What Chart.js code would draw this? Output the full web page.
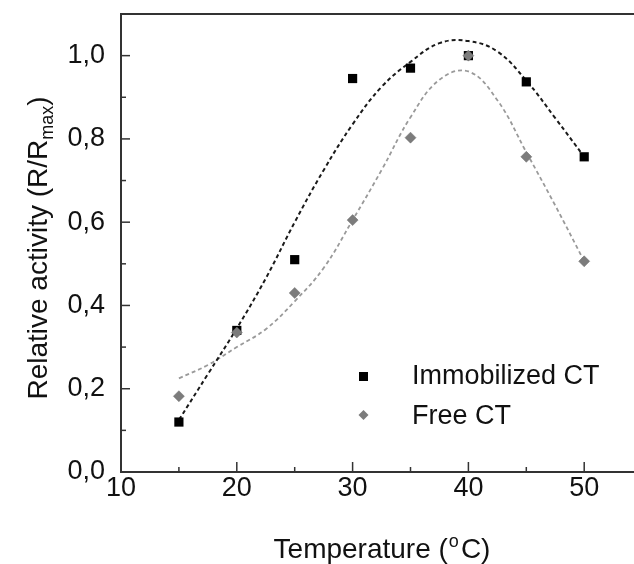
<!DOCTYPE html>
<html>
<head>
<meta charset="utf-8">
<script src="https://cdn.jsdelivr.net/npm/chart.js@4/dist/chart.umd.min.js"></script>
<style>
  html, body { margin: 0; padding: 0; background: #fff; }
  #wrap { width: 634px; height: 564px; }
</style>
</head>
<body>
<div id="wrap"><canvas id="chart" width="634" height="564"></canvas></div>
<script>
// measured points
const temps = [15, 20, 25, 30, 35, 40, 45, 50];
const immobilized = [0.12, 0.34, 0.51, 0.945, 0.97, 1.0, 0.937, 0.757];
const free = [0.182, 0.335, 0.43, 0.605, 0.803, 1.0, 0.757, 0.506];

// fitted curves
const fitTemps = [15, 17.5, 20, 22.5, 25, 27.5, 30, 32.5, 35, 37.5, 40, 42.5, 45, 47.5, 50];
const immobilizedFit = [0.125, 0.235, 0.345, 0.465, 0.6, 0.725, 0.835, 0.925, 0.985, 1.03, 1.035, 1.01, 0.94, 0.85, 0.757];
const freeFit = [0.225, 0.257, 0.3, 0.343, 0.41, 0.49, 0.605, 0.725, 0.852, 0.942, 0.962, 0.893, 0.768, 0.64, 0.506];

const seriesNames = ["Immobilized CT", "Free CT"];
const xTickLabels = [10, 20, 30, 40, 50];
const yTickLabels = [0, 0.2, 0.4, 0.6, 0.8, 1.0];

const FONT = "'Liberation Sans', Arial, sans-serif";
const pts = (xs, ys) => xs.map((x, i) => ({x: x, y: ys[i]}));

// inward tick marks + top frame line
const frame = {
  id: "frame",
  afterDraw(chart) {
    const c = chart.ctx, a = chart.chartArea;
    const xs = chart.scales.x, ys = chart.scales.y;
    c.save();
    c.strokeStyle = "#333";
    c.lineWidth = 2;
    c.beginPath();
    c.moveTo(a.left - 1, a.top);
    c.lineTo(chart.width, a.top);
    c.stroke();
    c.lineWidth = 1.5;
    xs.ticks.forEach(t => {
      const px = xs.getPixelForValue(t.value);
      const len = xTickLabels.includes(Math.round(t.value)) ? 10 : 5;
      c.beginPath(); c.moveTo(px, a.bottom); c.lineTo(px, a.bottom - len); c.stroke();
    });
    ys.ticks.forEach(t => {
      const py = ys.getPixelForValue(t.value);
      const major = Math.round(t.value * 10) % 2 === 0;
      c.beginPath(); c.moveTo(a.left, py); c.lineTo(a.left + (major ? 9 : 5), py); c.stroke();
    });
    c.restore();
  }
};

// axis titles with sub/superscripts, and the legend inside the plot
const labels = {
  id: "labels",
  afterDraw(chart) {
    const c = chart.ctx;
    c.save();
    c.fillStyle = "#111";
    c.textBaseline = "alphabetic";

    // x title
    let big = "28px " + FONT, small = "18px " + FONT;
    c.font = big;
    const p1 = "Temperature (", p3 = "C)";
    c.font = small; const wo = c.measureText("o").width + 3;
    c.font = big;
    const w = c.measureText(p1).width + wo + c.measureText(p3).width;
    let x = 382 - w / 2, y = 558;
    c.fillText(p1, x, y); x += c.measureText(p1).width;
    c.font = small; c.fillText("o", x + 1, y - 11); x += wo;
    c.font = big; c.fillText(p3, x, y);

    // y title
    c.translate(47, 248);
    c.rotate(-Math.PI / 2);
    const q1 = "Relative activity (R/R", q2 = "max", q3 = ")";
    c.font = small; const wm = c.measureText(q2).width;
    c.font = big;
    const wy = c.measureText(q1).width + wm + c.measureText(q3).width;
    x = -wy / 2;
    c.fillText(q1, x, 0); x += c.measureText(q1).width;
    c.font = small; c.fillText(q2, x, 6); x += wm;
    c.font = big; c.fillText(q3, x, 0);
    c.restore();

    // legend
    c.save();
    c.font = "27px " + FONT;
    c.fillStyle = "#111";
    c.textBaseline = "alphabetic";
    c.fillText(seriesNames[0], 412, 384);
    c.fillText(seriesNames[1], 412, 424);
    c.fillStyle = "#000";
    c.fillRect(359, 372, 9, 9);
    c.fillStyle = "#7c7c7c";
    c.beginPath();
    c.moveTo(363.5, 410); c.lineTo(368.5, 415); c.lineTo(363.5, 420); c.lineTo(358.5, 415);
    c.closePath(); c.fill();
    c.restore();
  }
};

new Chart(document.getElementById("chart"), {
  type: "scatter",
  data: {
    datasets: [
      {
        label: seriesNames[1],
        data: pts(temps, free),
        pointStyle: "rectRot",
        pointRadius: 5.5,
        backgroundColor: "#7c7c7c",
        borderColor: "#6e6e6e",
        borderWidth: 0.5,
        order: 0
      },
      {
        label: seriesNames[0],
        data: pts(temps, immobilized),
        pointStyle: "rect",
        pointRadius: 6.5,
        backgroundColor: "#000",
        borderColor: "#000",
        borderWidth: 0,
        order: 1
      },
      {
        label: "fit immobilized",
        data: pts(fitTemps, immobilizedFit),
        showLine: true,
        pointRadius: 0,
        borderColor: "#1a1a1a",
        borderWidth: 2,
        borderDash: [4, 3],
        tension: 0.4,
        order: 2
      },
      {
        label: "fit free",
        data: pts(fitTemps, freeFit),
        showLine: true,
        pointRadius: 0,
        borderColor: "#9a9a9a",
        borderWidth: 1.8,
        borderDash: [4, 3],
        tension: 0.4,
        order: 3
      }
    ]
  },
  options: {
    responsive: false,
    animation: false,
    layout: {autoPadding: false, padding: {top: 14, right: 0, left: 0, bottom: 0}},
    plugins: {
      legend: {display: false},
      tooltip: {enabled: false}
    },
    scales: {
      x: {
        type: "linear",
        min: 10,
        max: 54.3,
        afterFit: s => { s.height = 92; s.paddingLeft = 0; s.paddingRight = 0; },
        border: {color: "#333", width: 2},
        grid: {display: false, drawTicks: false},
        ticks: {
          stepSize: 5,
          includeBounds: false,
          autoSkip: false,
          maxRotation: 0,
          padding: 0,
          color: "#111",
          font: {family: FONT, size: 27},
          callback: v => xTickLabels.includes(v) ? String(v) : ""
        }
      },
      y: {
        type: "linear",
        min: 0,
        max: 1.1,
        afterFit: s => { s.width = 121; s.paddingTop = 0; s.paddingBottom = 0; },
        border: {color: "#333", width: 2},
        grid: {display: false, drawTicks: false},
        ticks: {
          stepSize: 0.1,
          includeBounds: false,
          autoSkip: false,
          padding: 16,
          color: "#111",
          font: {family: FONT, size: 27},
          callback: v => {
            const r = Math.round(v * 10) / 10;
            return yTickLabels.some(t => Math.abs(t - r) < 1e-6) ? r.toFixed(1).replace(".", ",") : "";
          }
        }
      }
    }
  },
  plugins: [frame, labels]
});
</script>
</body>
</html>
